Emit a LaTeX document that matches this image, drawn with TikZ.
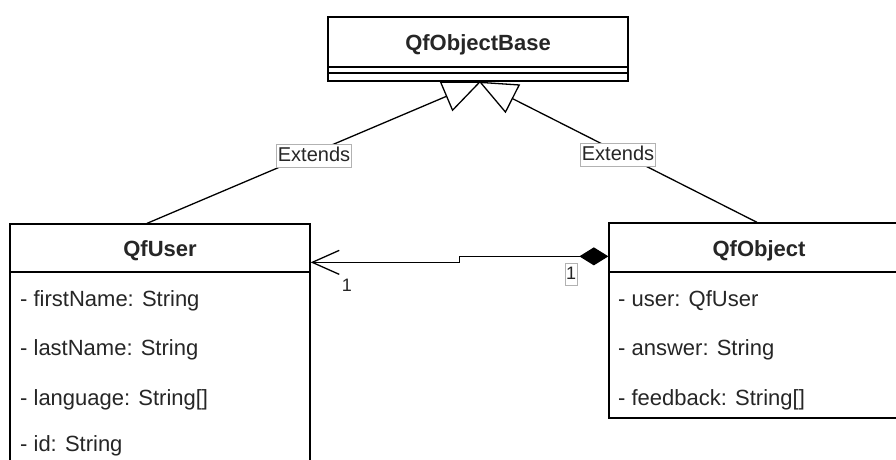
\documentclass[tikz,border=0pt]{standalone}
\usepackage{fontspec}
\setmainfont{Liberation Sans}
\usetikzlibrary{arrows.meta,backgrounds}

\colorlet{ink}{black!85}

\tikzset{
  classbox/.style={draw=black, line width=1.3pt, fill=white, rectangle, inner sep=0pt},
  classname/.style={font=\fontsize{22}{26}\selectfont\bfseries, text=ink, inner sep=0pt, anchor=base},
  attr/.style={font=\fontsize{22}{26}\selectfont, text=ink, inner sep=0pt, anchor=base west},
  divider/.style={line width=1.3pt},
  genline/.style={line width=1.3pt, -{Triangle[open, length=38pt, width=32pt, fill=white]}},
  extlabel/.style={font=\fontsize{20}{24}\selectfont, text=ink, fill=white, draw=black!30, line width=0.8pt,
                   inner xsep=1pt, inner ysep=2pt, text height=15pt, text depth=4pt},
  assoc/.style={line width=1.3pt, {Diamond[length=29pt, width=18pt]}-{Straight Barb[length=27pt, width=24pt]}},
  multlabel/.style={font=\fontsize{18}{21}\selectfont, text=ink, inner sep=0pt},
  multbox/.style={font=\fontsize{18}{21}\selectfont, text=ink, fill=white, draw=black!30, line width=0.8pt,
                  inner xsep=1pt, inner ysep=3pt, text height=13pt, text depth=3pt},
}

\begin{document}
\begin{tikzpicture}[x=1pt, y=-1pt]
\useasboundingbox (0,0) rectangle (896,459);
\clip (0,0) rectangle (896,459);

% class boxes
\node[classbox, minimum width=300pt, minimum height=64pt] (base) at (478,49) {};
\node[classname] (baseT) at (478,50) {QfObjectBase};
\draw[divider] (base.west |- 0,67) -- (base.east |- 0,67);
\draw[divider] (base.west |- 0,73) -- (base.east |- 0,73);

\node[classbox, minimum width=300pt, minimum height=256pt] (user) at (160,352) {};
\node[classname] (userT) at (160,256) {QfUser};
\draw[divider] (user.west |- 0,272) -- (user.east |- 0,272);
\node[attr] (u1) at (20,306) {- firstName: String};
\node[attr] (u2) at (20,355) {- lastName: String};
\node[attr] (u3) at (20,405) {- language: String[]};
\node[attr] (u4) at (20,451) {- id: String};

\node[classbox, minimum width=300pt, minimum height=195pt] (obj) at (759,320.5) {};
\node[classname] (objT) at (759,256) {QfObject};
\draw[divider] (obj.west |- 0,272) -- (obj.east |- 0,272);
\node[attr] (o1) at (618,306) {- user: QfUser};
\node[attr] (o2) at (618,355) {- answer: String};
\node[attr] (o3) at (618,405) {- feedback: String[]};

% connectors, kept behind the boxes
\begin{scope}[on background layer]
  \draw[genline] ([xshift=-13pt]user.north) -- ([xshift=3pt]base.south)
    node[extlabel, midway, yshift=-3pt] (ext1) {Extends};
  \draw[genline] ([xshift=-2pt]obj.north) -- ([xshift=1pt]base.south)
    node[extlabel, midway, yshift=-3pt] (ext2) {Extends};
  \draw[assoc] ([yshift=-34pt]obj.north west) -- ++(-149,0) -- ++(0,6)
    -- ([yshift=-39pt]user.north east);
\end{scope}

\node[multlabel] (m1) at (347,285) {1};
\node[multbox] (m2) at (571,274.5) {1};
\end{tikzpicture}
\end{document}
